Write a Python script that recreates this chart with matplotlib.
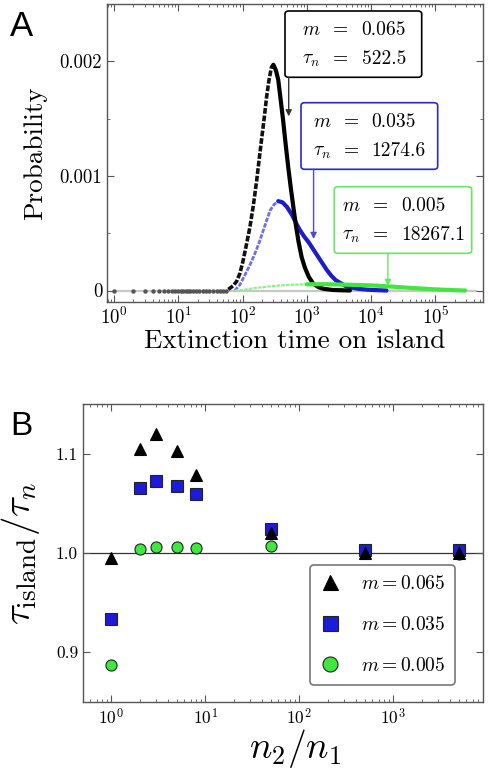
import matplotlib
matplotlib.use("Agg")
import matplotlib.pyplot as plt
from matplotlib.patches import FancyBboxPatch
from matplotlib.ticker import FixedLocator, NullFormatter

plt.rcParams['font.family'] = ['cmr10', 'DejaVu Serif']
plt.rcParams['mathtext.fontset'] = 'cm'
plt.rcParams['axes.formatter.use_mathtext'] = True
plt.rcParams['axes.unicode_minus'] = False

# --- panel A: extinction time distributions ---
t_zero = [1, 2, 3, 4, 5, 6, 7, 8, 9, 10, 11, 12, 13, 14, 15, 17, 19, 21, 24, 27, 30, 35, 40, 45, 50, 55]

t_black = [60, 71, 81, 91, 102, 115, 130, 148, 166, 182, 200, 219, 237, 257, 282, 302, 331,
           359, 389, 427, 468, 513, 562, 617, 676, 741, 832, 933, 1072, 1259, 1514, 1820, 2512, 4677]
p_black = [0.00001, 0.00004, 0.00008, 0.00015, 0.00026, 0.00040, 0.00055, 0.00075, 0.00096,
           0.00115, 0.00134, 0.00152, 0.00169, 0.00183, 0.00195, 0.00197, 0.00192, 0.00184,
           0.00168, 0.00149, 0.00128, 0.00108, 0.00090, 0.00073, 0.00057, 0.00043, 0.00029,
           0.00020, 0.00012, 0.00006, 0.00003, 0.000015, 0.000005, 0.0]

t_blue = [76, 91, 110, 132, 155, 182, 209, 240, 269, 309, 359, 417, 490, 589, 692, 776, 912,
          1072, 1259, 1479, 1738, 2042, 2399, 2818, 3236, 3981, 5012, 6310, 8913, 12589, 17378]
p_blue = [0.0, 0.00005, 0.00014, 0.00023, 0.00032, 0.00042, 0.00052, 0.00062, 0.00070, 0.00075,
          0.00078, 0.00077, 0.00073, 0.00066, 0.00058, 0.00053, 0.00047, 0.00042, 0.00036,
          0.00030, 0.00024, 0.00018, 0.00013, 0.00009, 0.00007, 0.00004, 0.000025, 0.000015,
          0.000007, 0.000003, 0.0]

t_green = [76, 100, 150, 250, 400, 700, 1000, 2000, 5000, 10000, 20000, 50000, 100000, 200000, 290000]
p_green = [0.0, 0.000005, 0.00002, 0.000035, 0.000045, 0.000052, 0.000055, 0.000055,
           0.00005, 0.000045, 0.000035, 0.00002, 0.00001, 0.000003, 0.0]

m_values = ["0.065", "0.035", "0.005"]
tau_n = [522.5, 1274.6, 18267.1]
arrow_tip = [0.00152, 0.00045, 0.00004]

# --- panel B: tau_island / tau_n ---
ratio = [1, 2, 3, 5, 8, 50, 500, 5000]
tau_065 = [0.995, 1.105, 1.120, 1.103, 1.079, 1.020, 1.000, 1.000]
tau_035 = [0.934, 1.065, 1.072, 1.067, 1.059, 1.024, 1.003, 1.003]
tau_005 = [0.887, 1.004, 1.006, 1.006, 1.005, 1.007, 1.000, 0.999]

W, H = 488, 771
fig = plt.figure(figsize=(W / 100, H / 100), dpi=100)

# axes boxes in pixels (left, top, right, bottom)
A_px = (107, 4, 483, 302)
B_px = (83, 404, 483, 702)


def add_axes_px(box):
    l, t, r, b = box
    return fig.add_axes([l / W, 1 - b / H, (r - l) / W, (b - t) / H])


def style_axes(ax):
    for s in ax.spines.values():
        s.set_color('#555555')
        s.set_linewidth(1.0)
    ax.tick_params(which='both', direction='in', top=True, right=True, color='#555555')
    ax.tick_params(which='major', length=5, width=0.8)
    ax.tick_params(which='minor', length=2.5, width=0.6)


# ---------------- panel A ----------------
axA = add_axes_px(A_px)
style_axes(axA)
axA.set_xscale('log')
axA.hlines(0, t_zero[0], 4.5e5, color='#c8c8c8', lw=1.6, zorder=1)
axA.plot(t_zero, [0] * len(t_zero), 'o', color='#555555', ms=2.2, zorder=2)

colors = ['black', '#1c1cc8', '#3ee83e']
light = ['#111111', '#7070e0', '#90f090']
rise_lw = [2.6, 2.0, 1.6]
series = [(t_black, p_black), (t_blue, p_blue), (t_green, p_green)]
zorders = [4, 3, 5]
for (t, p), c, lc, rl, z in zip(series, colors, light, rise_lw, zorders):
    k = p.index(max(p))
    axA.plot(t[:k + 1], p[:k + 1], color=lc, lw=rl, ls=(0, (1.6, 0.5)), zorder=z)
    axA.plot(t[k:], p[k:], color=c, lw=3.0, solid_capstyle='round',
             solid_joinstyle='round', zorder=z)

axA.set_xlim(0.78, 5.5e5)
axA.set_ylim(-0.0001, 0.0025)
axA.yaxis.set_major_locator(FixedLocator([0, 0.001, 0.002]))
axA.set_yticklabels(['0', '0.001', '0.002'])
axA.yaxis.set_minor_locator(FixedLocator([0.0005, 0.0015]))
axA.xaxis.set_minor_formatter(NullFormatter())
axA.tick_params(labelsize=13.5)
axA.set_xlabel('Extinction time on island', fontsize=19.5, labelpad=1)
axA.set_ylabel('Probability', fontsize=19.5, labelpad=9)

# annotation boxes (pixel layout)
box_px = [(285, 11, 421.7, 77.3), (301, 102.7, 437.7, 169.3), (334.3, 186.7, 471.7, 253.3)]
col_off = [(16.7, 55.7, 76.7), (12.0, 50.7, 70.7), (7.4, 45.7, 67.4)]
edge = ['black', '#2a2ac0', '#66e866']
arrow_c = ['#333333', '#4a4ad8', '#66e866']
al, at, ar, ab = A_px


def fx(px):
    return (px - al) / (ar - al)


def fy(py):
    return (ab - py) / (ab - at)


for i in range(3):
    l, t, r, b = box_px[i]
    patch = FancyBboxPatch((fx(l), fy(b)), fx(r) - fx(l), fy(t) - fy(b),
                           boxstyle='round,pad=0,rounding_size=0.01',
                           transform=axA.transAxes, fc='white', ec=edge[i], lw=1.2, zorder=6)
    axA.add_patch(patch)
    o_m, o_eq, o_v = col_off[i]
    for row, (lab, val) in enumerate([(r'$m$', m_values[i]), (r'$\tau_n$', f'{tau_n[i]:.1f}')]):
        yb = fy(t + 24 + 29 * row)
        axA.text(fx(l + o_m), yb, lab, transform=axA.transAxes, fontsize=14, va='baseline', zorder=7)
        axA.text(fx(l + o_eq), yb, '=', transform=axA.transAxes, fontsize=14, va='baseline',
                 ha='center', zorder=7)
        axA.text(fx(l + o_v), yb, val, transform=axA.transAxes, fontsize=14, va='baseline', zorder=7)
    # vertical arrow from box bottom down to the curve at tau_n
    y_box = axA.transData.inverted().transform(axA.transAxes.transform((0, fy(b))))[1]
    axA.annotate('', xy=(tau_n[i], arrow_tip[i]), xytext=(tau_n[i], y_box),
                 arrowprops=dict(arrowstyle='-|>', color=arrow_c[i], lw=1.0,
                                 mutation_scale=9, shrinkA=0, shrinkB=0), zorder=6)

fig.text(10 / W, 1 - 36 / H, 'A', fontsize=25, family='Liberation Sans')

# ---------------- panel B ----------------
axB = add_axes_px(B_px)
style_axes(axB)
axB.set_xscale('log')
axB.axhline(1.0, color='#333333', lw=0.9, zorder=1)
hc = axB.plot(ratio, tau_005, 'o', ms=8, mfc='#3ee83e', mec='#222222', mew=0.8,
              ls='none', label=r'$m = 0.005$', zorder=3)[0]
hs = axB.plot(ratio, tau_035, 's', ms=8, mfc='#1c1cd8', mec='#222222', mew=0.8,
              ls='none', label=r'$m = 0.035$', zorder=4)[0]
ht = axB.plot(ratio, tau_065, '^', ms=8, mfc='black', mec='black', mew=0.8,
              ls='none', label=r'$m = 0.065$', zorder=5)[0]
axB.set_xlim(0.5, 9000)
axB.set_ylim(0.85, 1.15)
axB.yaxis.set_major_locator(FixedLocator([0.9, 1.0, 1.1]))
axB.set_yticklabels(['0.9', '1.0', '1.1'])
axB.xaxis.set_minor_formatter(NullFormatter())
axB.tick_params(labelsize=12.5)
axB.set_xlabel(r'$n_2/n_1$', fontsize=27, labelpad=0)
axB.xaxis.label.set_x(0.53)
axB.set_ylabel(r'$\tau_{\rm island}/\tau_n$', fontsize=28, labelpad=10)
leg = axB.legend(handles=[ht, hs, hc], loc='lower right', bbox_to_anchor=(0.93, 0.057),
                 borderaxespad=0, fontsize=14, markerscale=1.35, labelspacing=1.2,
                 handlelength=1.0, handletextpad=1.1, borderpad=0.5, fancybox=True, framealpha=1)
leg.get_frame().set_edgecolor('#777777')
leg.get_frame().set_linewidth(1.2)

fig.text(10 / W, 1 - 435 / H, 'B', fontsize=24, family='Liberation Sans')

fig.savefig('out.png', dpi=100)
